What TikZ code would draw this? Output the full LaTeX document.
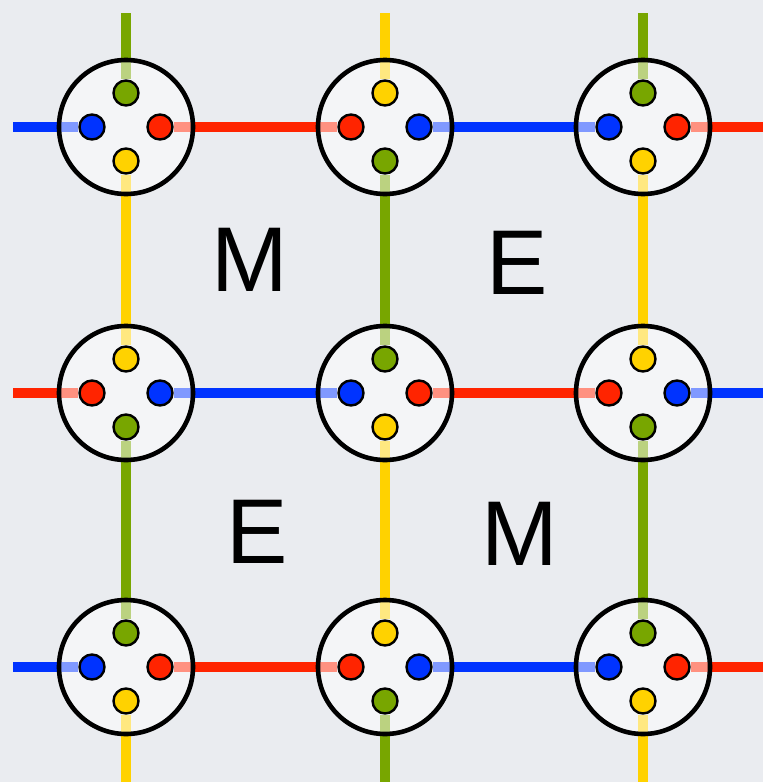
\documentclass[tikz,border=0pt]{standalone}
\usepackage{fontspec}
\setmainfont{Liberation Sans}
\usetikzlibrary{backgrounds}
\definecolor{wgreen}{RGB}{120,166,0}
\definecolor{wyellow}{RGB}{255,210,0}
\definecolor{wred}{RGB}{255,36,0}
\definecolor{wblue}{RGB}{0,51,255}
\definecolor{paper}{RGB}{234,236,240}
% junction: name, x, y, top, left, right, bottom
\newcommand{\junction}[7]{%
   \node[junction] (#1) at (#2,#3) {};
   \node[dot,fill=#4] (#1-t) at ([yshift= 34pt]#1.center) {};
   \node[dot,fill=#5] (#1-l) at ([xshift=-34pt]#1.center) {};
   \node[dot,fill=#6] (#1-r) at ([xshift= 34pt]#1.center) {};
   \node[dot,fill=#7] (#1-b) at ([yshift=-34pt]#1.center) {};
}
\tikzset{junction/.style={circle, draw=black, line width=4.6pt, fill=white, fill opacity=0.5, draw opacity=1, minimum size=134pt, inner sep=0pt},
         dot/.style={circle, draw=black, line width=2.4pt, minimum size=25pt, inner sep=0pt},
         wire/.style={line width=10.5pt},
         letter/.style={font=\fontsize{92}{92}\selectfont, inner sep=0pt}}

\begin{document}
\begin{tikzpicture}[x=1pt,y=-1pt]
   \useasboundingbox (0,0) rectangle (763,782);
   \begin{scope}[on background layer]
     \fill[paper] (0,0) rectangle (763,782);
   \end{scope}
   \coordinate (lft) at (13,0);
   \coordinate (rgt) at (763,0);
   \coordinate (top) at (0,13);
   \coordinate (bot) at (0,782);
   \junction{nw}{126}{127}{wgreen}{wblue}{wred}{wyellow}
   \junction{n} {385}{127}{wyellow}{wred}{wblue}{wgreen}
   \junction{ne}{643}{127}{wgreen}{wblue}{wred}{wyellow}
   \junction{w} {126}{393}{wyellow}{wred}{wblue}{wgreen}
   \junction{c} {385}{393}{wgreen}{wblue}{wred}{wyellow}
   \junction{e} {643}{393}{wyellow}{wred}{wblue}{wgreen}
   \junction{sw}{126}{667}{wgreen}{wblue}{wred}{wyellow}
   \junction{s} {385}{667}{wyellow}{wred}{wblue}{wgreen}
   \junction{se}{643}{667}{wgreen}{wblue}{wred}{wyellow}
   \begin{scope}[on background layer]
     % rows
     \draw[wire,wblue]   (nw-l) -- (nw-l -| lft);
     \draw[wire,wred]    (nw-r) -- (n-l);
     \draw[wire,wblue]   (n-r)  -- (ne-l);
     \draw[wire,wred]    (ne-r) -- (ne-r -| rgt);
     \draw[wire,wred]    (w-l)  -- (w-l -| lft);
     \draw[wire,wblue]   (w-r)  -- (c-l);
     \draw[wire,wred]    (c-r)  -- (e-l);
     \draw[wire,wblue]   (e-r)  -- (e-r -| rgt);
     \draw[wire,wblue]   (sw-l) -- (sw-l -| lft);
     \draw[wire,wred]    (sw-r) -- (s-l);
     \draw[wire,wblue]   (s-r)  -- (se-l);
     \draw[wire,wred]    (se-r) -- (se-r -| rgt);
     % columns
     \draw[wire,wgreen]  (nw-t) -- (nw-t |- top);
     \draw[wire,wyellow] (nw-b) -- (w-t);
     \draw[wire,wgreen]  (w-b)  -- (sw-t);
     \draw[wire,wyellow] (sw-b) -- (sw-b |- bot);
     \draw[wire,wyellow] (n-t)  -- (n-t |- top);
     \draw[wire,wgreen]  (n-b)  -- (c-t);
     \draw[wire,wyellow] (c-b)  -- (s-t);
     \draw[wire,wgreen]  (s-b)  -- (s-b |- bot);
     \draw[wire,wgreen]  (ne-t) -- (ne-t |- top);
     \draw[wire,wyellow] (ne-b) -- (e-t);
     \draw[wire,wgreen]  (e-b)  -- (se-t);
     \draw[wire,wyellow] (se-b) -- (se-b |- bot);
   \end{scope}
   \node[letter] (m1) at (250,260) {M};
   \node[letter] (e1) at (517,263) {E};
   \node[letter] (e2) at (257,532) {E};
   \node[letter] (m2) at (520,534) {M};
\end{tikzpicture}
\end{document}
